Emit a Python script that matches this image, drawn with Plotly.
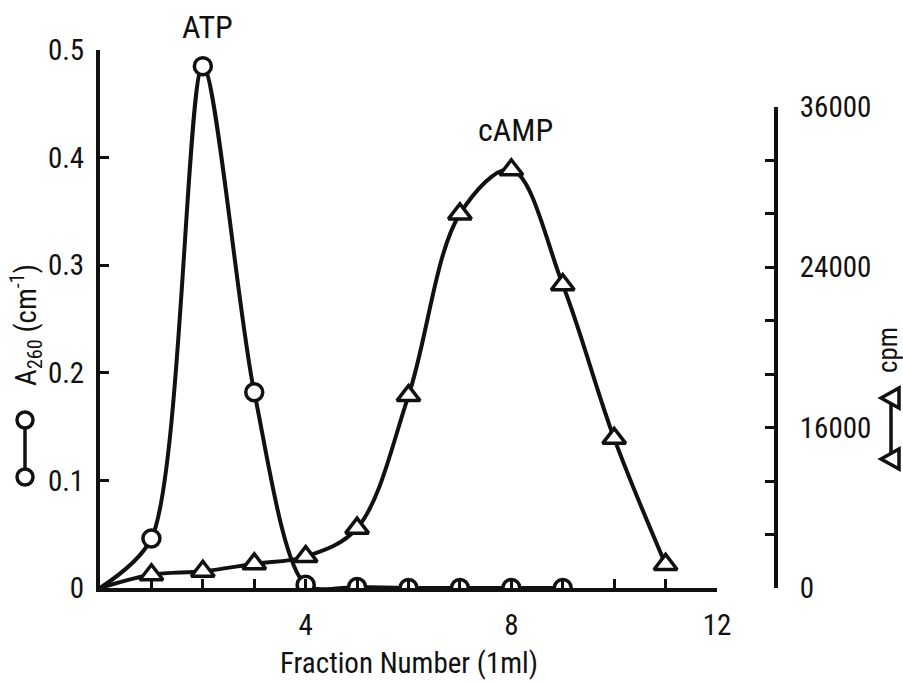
import plotly.graph_objects as go

# ---- data ----
fraction_a260 = [0, 1, 2, 3, 4, 5, 6, 7, 8, 9]
a260 = [0.0, 0.046, 0.485, 0.182, 0.003, 0.001, 0.0, 0.0, 0.0, 0.0]

fraction_cpm = [0, 1, 2, 3, 4, 5, 6, 7, 8, 9, 10, 11]
cpm = [0, 990, 1250, 1810, 2350, 4480, 14400, 28000, 31300, 22700, 11200, 1760]

x_tickvals = list(range(0, 13))
x_ticktext = ["", "", "", "", "4", "", "", "", "8", "", "", "", "12"]
y1_tickvals = [0, 0.1, 0.2, 0.3, 0.4, 0.5]
y1_ticktext = ["0", "0.1", "0.2", "0.3", "0.4", "0.5"]
y2_tickvals = [0, 4000, 8000, 12000, 16000, 20000, 24000, 28000, 32000, 36000]
y2_ticktext = ["0", "", "", "16000", "", "", "24000", "", "", "36000"]

peak_labels = ["ATP", "cAMP"]
x_title = "Fraction Number (1ml)"
y1_title = "A<sub>260</sub> (cm<sup>-1</sup>)"
y2_title = "cpm"

# ---- layout geometry (pixels) ----
W, H = 903, 683
L, R, T, B = 100, 127, 50, 95
PW, PH = W - L - R, H - T - B
X_END = 717  # pixel where fraction 12 ends
Y2_TOP = 107  # pixel where 36000 sits


def px(x):
    return (x - L) / PW


def py(y):
    return (H - B - y) / PH


FONT = "Liberation Sans Narrow, Arial Narrow, Roboto Condensed, DejaVu Sans Condensed, Liberation Sans, sans-serif"
INK = "#111111"

fig = go.Figure()

# A260 curve
fig.add_trace(go.Scatter(
    x=fraction_a260, y=a260, mode="lines",
    line=dict(color=INK, width=4, shape="spline", smoothing=0.8),
    xaxis="x", yaxis="y", hoverinfo="skip", showlegend=False))
# cpm curve
fig.add_trace(go.Scatter(
    x=fraction_cpm, y=cpm, mode="lines",
    line=dict(color=INK, width=4, shape="spline", smoothing=1.0),
    xaxis="x2", yaxis="y2", hoverinfo="skip", showlegend=False))
# markers
fig.add_trace(go.Scatter(
    x=fraction_cpm[1:], y=cpm[1:], mode="markers",
    marker=dict(symbol="triangle-up", size=20, color="white",
                line=dict(color=INK, width=3.5)),
    xaxis="x2", yaxis="y2", showlegend=False))
fig.add_trace(go.Scatter(
    x=fraction_a260[1:], y=a260[1:], mode="markers",
    marker=dict(symbol="circle", size=17, color="white",
                line=dict(color=INK, width=3.5)),
    xaxis="x", yaxis="y", showlegend=False))

xdom = [0, (X_END - L) / PW]
axis_common = dict(showline=True, linecolor=INK, linewidth=4, ticks="inside",
                   ticklen=9, tickwidth=3, tickcolor=INK, showgrid=False,
                   zeroline=False, tickfont=dict(family=FONT, size=29, color=INK))

fig.update_layout(
    width=W, height=H,
    margin=dict(l=L, r=R, t=T, b=B),
    paper_bgcolor="white", plot_bgcolor="rgba(0,0,0,0)",
    xaxis=dict(domain=xdom, range=[0, 12], tickmode="array", tickvals=x_tickvals,
               ticktext=x_ticktext, anchor="y", ticklabelstandoff=8, **axis_common),
    yaxis=dict(domain=[0, 1], range=[0, 0.5], tickmode="array", tickvals=y1_tickvals,
               ticktext=y1_ticktext, anchor="x", ticklabelstandoff=6, **axis_common),
    xaxis2=dict(domain=xdom, range=[0, 12], anchor="y2", visible=False),
    yaxis2=dict(domain=[0, py(Y2_TOP)], range=[0, 36000], tickmode="array",
                tickvals=y2_tickvals, ticktext=y2_ticktext, side="right",
                anchor="free", position=1, ticklabelstandoff=16, **axis_common),
)


def label(text, x, y, size=29, angle=0):
    return dict(text=text, x=px(x), y=py(y), xref="paper", yref="paper",
                xanchor="center", yanchor="middle", showarrow=False,
                textangle=angle, font=dict(family=FONT, size=size, color=INK))


ann = [
    label(peak_labels[0], 207, 27, size=32),
    label(peak_labels[1], 515, 130, size=32),
    label(x_title, 409, 663),
    label(y1_title, 26, 325, angle=-90),
    label(y2_title, 888, 350, size=27, angle=-90),
]
fig.update_layout(annotations=ann)

# key symbols beside the axis titles
shapes = []
# left key: circle - line - circle
shapes.append(dict(type="line", xref="paper", yref="paper", x0=px(25), x1=px(25),
                   y0=py(420), y1=py(477), line=dict(color=INK, width=3.5)))
for cy in (420, 477):
    shapes.append(dict(type="circle", xref="paper", yref="paper", xsizemode="pixel",
                       ysizemode="pixel", xanchor=px(25), yanchor=py(cy),
                       x0=-8, x1=8, y0=-8, y1=8, fillcolor="white",
                       line=dict(color=INK, width=3.5)))
# right key: left-pointing triangle - line - triangle
shapes.append(dict(type="line", xref="paper", yref="paper", x0=px(891), x1=px(891),
                   y0=py(398), y1=py(459), line=dict(color=INK, width=3.5)))
for cy in (398, 459):
    shapes.append(dict(type="path", xref="paper", yref="paper", xsizemode="pixel",
                       ysizemode="pixel", xanchor=px(891), yanchor=py(cy),
                       path="M -10 0 L 8 10 L 8 -10 Z", fillcolor="white",
                       line=dict(color=INK, width=3.5)))
fig.update_layout(shapes=shapes)

fig.write_html("out.html")
